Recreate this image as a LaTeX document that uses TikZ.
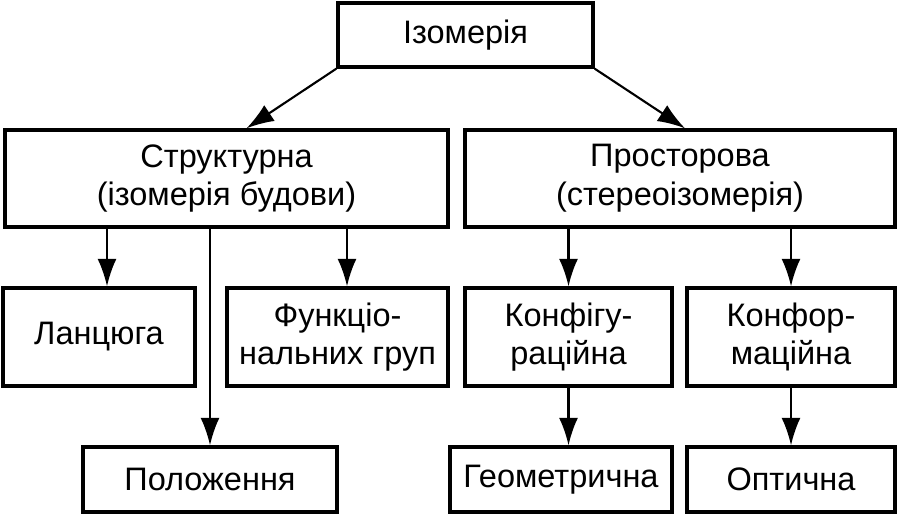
\documentclass[tikz,border=0pt]{standalone}
\usepackage{fontspec}
\setmainfont{Liberation Sans}
\usetikzlibrary{positioning,calc,arrows.meta}
\begin{document}
\begin{tikzpicture}[>={Latex[length=5.5mm,width=3.8mm]},
  font=\fontsize{18.5}{22}\selectfont,
  kindbox/.style={draw, line width=1.9pt, align=center, inner sep=2pt},
  link/.style={->, line width=1.2pt}]
\useasboundingbox (0,0) rectangle (18.02,10.32);
\node[kindbox, minimum width=5.1cm, minimum height=1.28cm] (iso) at (9.31,9.62) {Ізомерія};
\node[kindbox, minimum width=8.86cm, minimum height=1.94cm] (struct) at (4.53,6.75) {Структурна\\(ізомерія будови)};
\node[kindbox, minimum width=8.6cm, minimum height=1.94cm] (spatial) at (13.6,6.75) {Просторова\\(стереоізомерія)};
\draw[link] (iso.south west) -- ([xshift=4mm]struct.north);
\draw[link] (iso.south east) -- ([xshift=1mm]spatial.north);
\node[kindbox, minimum width=3.84cm, minimum height=1.96cm] (chain) at (1.98,3.58) {Ланцюга};
\node[kindbox, minimum width=4.42cm, minimum height=1.96cm] (func) at (6.75,3.58) {Функціо-\\нальних груп};
\node[kindbox, minimum width=5.08cm, minimum height=1.3cm] (pos) at (4.2,0.73) {Положення};
\draw[link] ([xshift=1.6mm]chain.north |- struct.south) -- ([xshift=1.6mm]chain.north);
\draw[link] ([xshift=1.9mm]func.north |- struct.south) -- ([xshift=1.9mm]func.north);
\draw[link] (pos.north |- struct.south) -- (pos.north);
\node[kindbox, minimum width=4.14cm, minimum height=1.96cm] (config) at (11.37,3.58) {Конфігу-\\раційна};
\node[kindbox, minimum width=4.16cm, minimum height=1.96cm] (conform) at (15.82,3.58) {Конфор-\\маційна};
\draw[link] (config.north |- spatial.south) -- (config.north);
\draw[link] (conform.north |- spatial.south) -- (conform.north);
\node[kindbox, minimum width=4.44cm, minimum height=1.3cm] (geom) at (11.22,0.73) {Геометрична};
\node[kindbox, minimum width=4.16cm, minimum height=1.3cm] (opt) at (15.82,0.73) {Оптична};
\draw[link] (config.south) -- (config.south |- geom.north);
\draw[link] (conform.south) -- (opt.north);
\end{tikzpicture}
\end{document}
